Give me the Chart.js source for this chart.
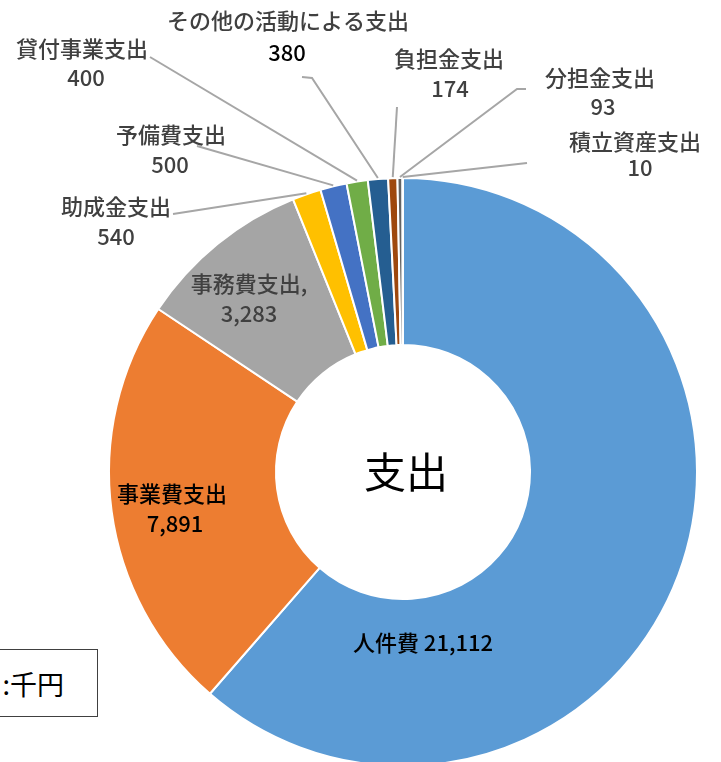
<!DOCTYPE html>
<html lang="ja">
<head>
<meta charset="utf-8">
<script src="https://cdn.jsdelivr.net/npm/chart.js@4/dist/chart.umd.min.js"></script>
<style>
  html, body { margin: 0; padding: 0; background: #fff; overflow: hidden; }
  #wrap { position: relative; width: 721px; height: 762px; }
  #unit {
    position: absolute; left: -100px; top: 649px; width: 198px; height: 68px;
    border: 1px solid #404040; box-sizing: border-box; background: #fff;
    font-family: "Noto Sans CJK JP", sans-serif; font-size: 27px; color: #000;
    display: flex; align-items: center; justify-content: flex-end; padding-right: 33px;
    white-space: pre;
  }
</style>
</head>
<body>
<div id="wrap">
  <canvas id="c" width="721" height="762"></canvas>
  <div id="unit">単位 :千円</div>
</div>
<script>
// ---- data ----
const categories = ["人件費", "事業費支出", "事務費支出", "助成金支出", "予備費支出",
  "貸付事業支出", "その他の活動による支出", "負担金支出", "分担金支出", "積立資産支出"];
const values = [21112, 7891, 3283, 540, 500, 400, 380, 174, 93, 10];
const centerTitle = "支出";

// ---- styles ----
const colors = ["#5B9BD5", "#ED7D31", "#A5A5A5", "#FFC000", "#4472C4",
  "#70AD47", "#255E91", "#9E480E", "#636363", "#997300"];

// label placement (name centre, value centre, leader-line start points)
const labelLayout = [
  { inline: true, pos: [423, 643], color: "#000" },
  { name: [172, 494], value: [175, 524], color: "#000" },
  { name: [249, 284], value: [249, 314], color: "#404040", suffix: "," },
  { name: [116, 207], value: [116, 237], color: "#404040", line: [[173, 214]] },
  { name: [171, 135], value: [170, 165], color: "#404040", line: [[197, 146]] },
  { name: [82, 49], value: [86, 78], color: "#404040", line: [[150, 57]] },
  { name: [288, 21], value: [287, 53], color: "#404040", valueColor: "#000", line: [[302, 77], [312, 78]] },
  { name: [449, 59], value: [450, 89], color: "#404040", line: [[397, 107]] },
  { name: [600, 78], value: [603, 107], color: "#404040", line: [[526, 89], [517, 89]] },
  { name: [635, 142], value: [640, 168], color: "#404040", line: [[527, 163]] }
];

const FONT = '"Noto Sans CJK JP", "Noto Sans CJK SC", sans-serif';

const labelPlugin = {
  id: 'labels',
  afterDatasetsDraw(chart) {
    const ctx = chart.ctx;
    const meta = chart.getDatasetMeta(0);
    ctx.save();
    // leader lines
    ctx.strokeStyle = "#A6A6A6";
    ctx.lineWidth = 2;
    meta.data.forEach((arc, i) => {
      const L = labelLayout[i];
      if (!L || !L.line) return;
      const p = arc.getProps(['x', 'y', 'startAngle', 'endAngle', 'outerRadius'], true);
      const mid = (p.startAngle + p.endAngle) / 2;
      const ex = p.x + Math.cos(mid) * (p.outerRadius + 1);
      const ey = p.y + Math.sin(mid) * (p.outerRadius + 1);
      ctx.beginPath();
      ctx.moveTo(L.line[0][0], L.line[0][1]);
      for (let k = 1; k < L.line.length; k++) ctx.lineTo(L.line[k][0], L.line[k][1]);
      ctx.lineTo(ex, ey);
      ctx.stroke();
    });
    // texts
    ctx.textAlign = 'center';
    ctx.textBaseline = 'middle';
    ctx.font = '500 22px ' + FONT;
    meta.data.forEach((arc, i) => {
      const L = labelLayout[i];
      if (!L) return;
      const v = values[i].toLocaleString('en-US');
      ctx.fillStyle = L.color;
      if (L.inline) {
        ctx.fillText(categories[i] + " " + v, L.pos[0], L.pos[1]);
        return;
      }
      ctx.fillText(categories[i] + (L.suffix || ""), L.name[0], L.name[1]);
      ctx.fillStyle = L.valueColor || L.color;
      ctx.fillText(v, L.value[0], L.value[1]);
    });
    // centre title
    const a = meta.data[0];
    ctx.fillStyle = "#000";
    ctx.font = '42px ' + FONT;
    ctx.fillText(centerTitle, a.x + 3, a.y);
    ctx.restore();
  }
};

new Chart(document.getElementById('c'), {
  type: 'doughnut',
  data: {
    labels: categories,
    datasets: [{
      data: values,
      backgroundColor: colors,
      borderColor: "#ffffff",
      borderWidth: 2,
      clip: false
    }]
  },
  options: {
    responsive: false,
    animation: false,
    radius: 294,
    cutout: '43.2%',
    layout: { padding: { left: 85, right: 0, top: 182, bottom: 0 } },
    plugins: { legend: { display: false }, tooltip: { enabled: false } }
  },
  plugins: [labelPlugin]
});
</script>
</body>
</html>
